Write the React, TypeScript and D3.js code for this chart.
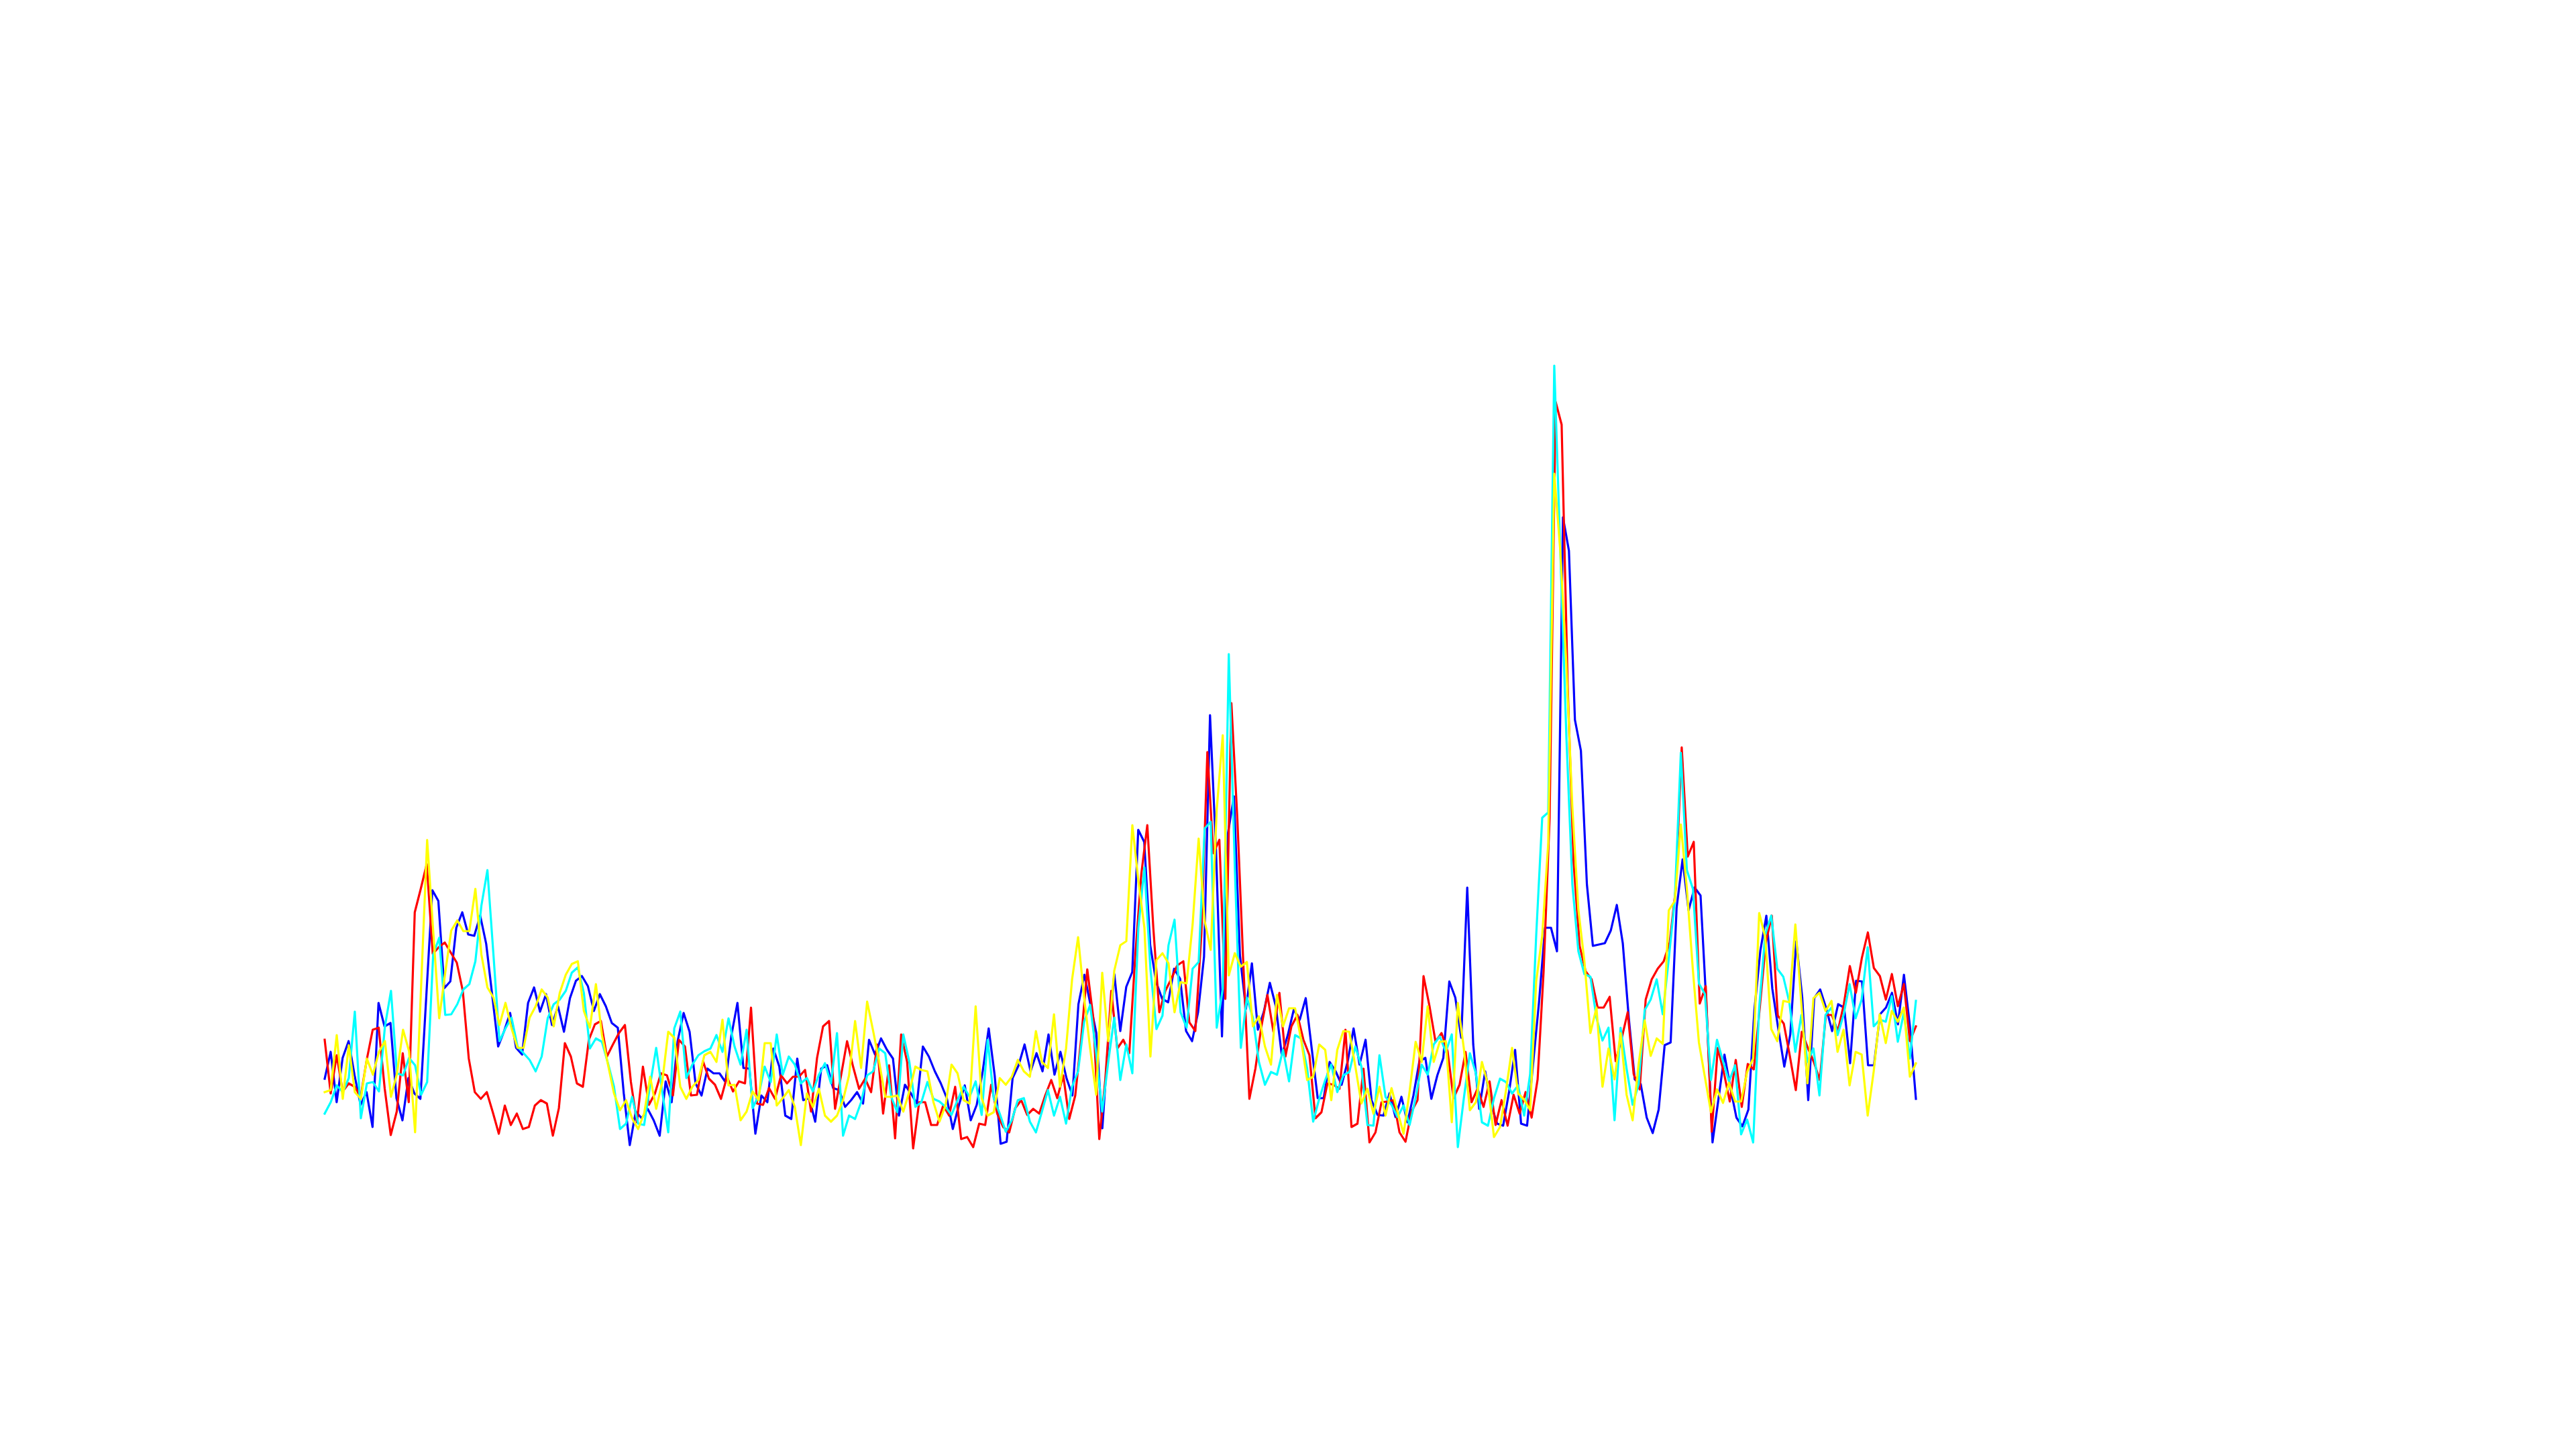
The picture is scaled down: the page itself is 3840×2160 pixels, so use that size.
import React, { useEffect } from "react";
import * as d3 from "d3";

// Four noisy series (values in arbitrary units).
const blueValues: number[] = [
  15.2, 19.2, 11.7, 18.3, 20.8, 15.7, 11.3, 13.2, 8.0, 26.5, 23.0, 23.5, 12.3, 9.0, 15.3, 13.0, 12.2, 27.7, 43.3, 41.7, 28.7, 29.7,
  37.7, 40.0, 36.7, 36.5, 39.5, 35.3, 27.7, 20.0, 22.3, 25.0, 19.8, 18.8, 26.5, 28.8, 25.2, 27.8, 23.2, 26.0, 22.2, 27.2, 29.8, 30.5,
  29.0, 25.3, 27.8, 26.0, 23.5, 22.8, 13.0, 5.3, 10.3, 9.3, 10.7, 9.0, 6.7, 14.8, 11.7, 20.8, 25.0, 22.2, 14.5, 12.7, 16.7, 16.0,
  16.0, 14.7, 21.7, 26.5, 16.8, 16.7, 7.0, 12.7, 11.7, 19.7, 17.0, 9.7, 9.2, 18.2, 12.0, 12.3, 8.8, 16.7, 17.2, 13.8, 13.5, 11.0, 12.0,
  13.2, 11.5, 21.0, 18.8, 21.2, 19.5, 18.2, 9.7, 14.3, 13.0, 11.5, 20.0, 18.5, 16.3, 14.5, 12.3, 7.7, 11.2, 14.2, 9.0, 11.3, 16.3,
  22.7, 15.7, 5.5, 5.8, 15.3, 17.2, 20.3, 16.3, 19.0, 16.3, 21.8, 15.8, 19.2, 15.3, 12.7, 26.3, 30.7, 26.3, 22.0, 7.8, 21.0, 30.8, 22.3,
  28.9, 31.1, 52.3, 50.5, 35.1, 29.6, 27.1, 26.6, 31.6, 30.1, 22.3, 20.8, 25.1, 33.4, 69.4, 49.3, 21.5, 51.8, 57.3, 33.6, 25.6, 32.4,
  22.5, 25.2, 29.5, 26.0, 18.7, 21.7, 25.5, 24.0, 27.2, 19.7, 12.3, 12.3, 17.7, 16.3, 14.3, 17.7, 22.7, 17.3, 21.0, 12.0, 9.8, 9.7,
  13.0, 9.5, 12.5, 8.7, 12.7, 17.8, 18.3, 12.2, 15.7, 18.3, 29.7, 27.3, 21.3, 43.7, 20.3, 10.7, 16.3, 11.3, 8.5, 8.2, 13.3, 19.5, 8.5,
  8.2, 17.4, 26.6, 37.7, 37.7, 34.2, 98.9, 93.9, 68.7, 64.1, 44.2, 35.0, 35.2, 35.4, 37.3, 41.1, 35.4, 24.3, 15.1, 14.4, 9.4, 7.1,
  10.6, 20.2, 20.6, 40.7, 47.9, 40.3, 43.7, 42.5, 25.8, 5.7, 12.2, 18.8, 13.8, 9.4, 8.1, 10.6, 25.4, 34.3, 39.5, 28.6, 22.6, 17.0, 21.8,
  35.7, 27.3, 12.0, 27.2, 28.5, 25.7, 22.3, 26.3, 25.8, 17.5, 29.8, 29.7, 17.2, 17.2, 24.8, 25.8, 28.0, 23.3, 30.7, 23.0, 12.2,
];

const redValues: number[] = [
  21.0, 13.0, 18.7, 13.3, 14.5, 14.0, 12.5, 18.0, 22.5, 22.8, 13.7, 6.8, 10.3, 19.0, 11.7, 40.0, 43.5, 47.2, 33.8, 34.8, 35.5,
  34.0, 32.5, 28.3, 18.2, 13.2, 12.2, 13.2, 10.2, 7.0, 11.2, 8.3, 10.0, 7.7, 8.0, 11.2, 12.0, 11.5, 6.7, 10.8, 20.5, 18.5, 14.5,
  14.0, 21.0, 23.3, 23.8, 18.5, 20.3, 22.0, 23.2, 14.7, 8.7, 17.0, 11.3, 13.0, 16.0, 15.7, 12.7, 21.0, 20.0, 12.7, 12.8, 17.8, 15.2, 14.3,
  12.2, 15.5, 13.3, 14.8, 14.5, 25.8, 11.5, 11.3, 13.8, 12.2, 15.7, 14.5, 15.5, 15.5, 16.5, 10.3, 18.3, 23.0, 23.8, 10.7, 15.7, 20.8,
  17.0, 13.7, 15.2, 13.2, 20.3, 10.0, 17.2, 6.3, 21.8, 17.7, 4.8, 11.7, 11.7, 8.3, 8.3, 11.2, 9.7, 14.0, 6.2, 6.5, 5.0, 8.5, 8.3,
  14.3, 10.0, 8.0, 7.2, 10.8, 12.0, 9.8, 10.7, 10.0, 12.7, 15.0, 12.3, 15.7, 9.2, 12.7, 21.3, 31.5, 24.3, 6.2, 15.0, 28.3, 19.7,
  21.0, 19.0, 33.6, 45.7, 53.0, 37.7, 25.1, 28.3, 30.1, 32.1, 32.7, 23.6, 22.3, 36.7, 63.9, 48.8, 50.8, 27.1, 71.2, 53.8, 32.1, 12.2,
  16.7, 23.0, 27.7, 22.2, 28.0, 18.5, 23.0, 24.7, 21.0, 18.7, 9.3, 10.2, 14.5, 14.3, 13.7, 22.5, 8.0, 8.5, 16.7, 5.7, 7.2, 11.7, 11.8,
  12.0, 7.2, 5.8, 10.3, 12.0, 30.5, 26.0, 20.7, 22.0, 19.3, 12.3, 14.3, 19.2, 11.7, 13.7, 11.0, 14.8, 8.3, 12.0, 8.2, 12.8, 10.0,
  13.2, 9.4, 15.1, 31.2, 54.1, 116.1, 112.7, 74.0, 47.3, 35.0, 31.2, 30.0, 25.8, 25.8, 27.4, 17.8, 21.2, 25.1, 15.9, 13.6, 27.0, 30.0, 31.6,
  32.7, 35.5, 43.5, 64.6, 48.3, 50.5, 26.4, 29.0, 7.3, 19.8, 16.2, 11.8, 18.0, 11.0, 17.4, 16.6, 25.8, 35.5, 39.5, 24.6, 23.4, 18.6,
  13.5, 22.2, 19.8, 17.7, 15.0, 24.7, 24.7, 22.3, 26.3, 32.0, 28.0, 33.2, 37.0, 31.7, 30.5, 27.0, 30.8, 26.0, 29.3, 20.8, 23.0,
];

const cyanValues: number[] = [
  10.0, 11.7, 14.2, 13.2, 15.3, 25.2, 9.3, 14.5, 14.7, 13.3, 23.0, 28.3, 16.0, 15.7, 18.3, 17.2, 12.8, 14.7, 33.7, 36.2, 24.7, 24.8,
  26.3, 28.5, 29.3, 32.7, 41.0, 46.3, 33.7, 20.8, 22.7, 24.3, 20.0, 19.0, 18.0, 16.3, 18.5, 24.2, 26.3, 27.0, 28.3, 31.0, 31.8, 28.0,
  19.7, 21.2, 20.7, 17.5, 14.0, 7.7, 8.5, 12.5, 8.5, 8.3, 14.3, 19.8, 13.3, 7.2, 22.7, 25.2, 15.3, 17.3, 18.7, 19.3, 19.7, 21.7,
  19.2, 24.2, 20.0, 17.3, 22.5, 10.8, 12.7, 17.0, 14.7, 21.8, 15.8, 18.5, 17.3, 14.5, 15.3, 13.3, 15.8, 17.5, 14.5, 22.0, 6.7, 9.7,
  9.2, 11.7, 15.7, 16.3, 19.7, 19.0, 12.5, 10.2, 21.8, 17.7, 11.0, 11.7, 14.7, 12.2, 11.8, 11.0, 9.8, 12.0, 14.0, 12.5, 14.8, 9.8,
  21.0, 12.3, 10.0, 7.3, 9.0, 12.0, 12.3, 8.8, 7.2, 10.3, 13.5, 9.7, 12.5, 8.5, 14.0, 16.3, 23.7, 26.2, 19.0, 10.3, 17.7, 24.3, 15.0,
  20.3, 16.0, 37.7, 46.7, 31.6, 22.6, 24.6, 35.1, 38.9, 25.1, 22.8, 31.6, 32.6, 52.5, 53.5, 22.8, 28.6, 78.5, 46.7, 19.8, 27.3, 24.3,
  17.7, 14.3, 16.2, 15.8, 19.5, 14.8, 21.7, 21.2, 16.7, 8.8, 12.2, 15.0, 17.3, 13.2, 15.7, 16.2, 20.0, 17.0, 8.3, 8.2, 18.7, 12.5, 11.3,
  9.5, 11.2, 8.3, 12.3, 17.3, 15.8, 20.3, 21.5, 19.2, 21.8, 5.0, 12.3, 19.0, 16.0, 8.7, 8.2, 12.3, 15.2, 14.7, 13.0, 14.2, 9.7,
  15.9, 36.5, 54.1, 54.9, 121.5, 93.9, 66.4, 44.2, 34.2, 30.8, 30.4, 24.3, 20.9, 22.8, 9.0, 22.8, 16.7, 11.3, 14.4, 25.4, 27.0, 30.0,
  24.8, 33.1, 41.9, 63.8, 46.3, 43.5, 29.4, 27.8, 15.0, 21.0, 17.8, 14.8, 17.2, 6.9, 9.1, 5.7, 25.8, 36.7, 39.5, 31.6, 30.4, 26.6,
  19.2, 24.7, 17.7, 19.7, 12.7, 24.7, 25.8, 21.7, 24.7, 29.3, 24.2, 27.0, 34.8, 23.0, 24.0, 23.7, 27.5, 20.7, 25.0, 18.2, 26.8,
];

const yellowValues: number[] = [
  13.2, 13.5, 21.7, 12.2, 20.2, 13.2, 12.2, 18.2, 15.8, 19.2, 20.8, 12.5, 16.0, 22.5, 19.3, 7.2, 29.0, 50.8, 37.3, 24.2, 31.0,
  37.3, 38.8, 37.2, 37.2, 43.5, 33.7, 28.8, 27.3, 23.2, 26.5, 22.7, 19.8, 19.8, 24.3, 26.0, 28.5, 27.3, 23.0, 28.0, 30.7, 32.3, 32.7,
  25.3, 22.8, 29.3, 21.7, 17.3, 13.0, 10.5, 12.0, 9.3, 7.7, 10.0, 15.5, 10.7, 14.7, 22.2, 21.3, 14.0, 12.2, 14.0, 15.0, 18.7, 19.2,
  17.7, 24.0, 14.2, 14.3, 9.0, 10.3, 13.3, 12.0, 20.5, 20.5, 11.2, 12.3, 13.5, 11.0, 5.3, 13.0, 11.0, 13.7, 9.7, 8.8, 9.7, 12.0,
  15.7, 23.8, 16.8, 26.7, 22.3, 17.7, 12.5, 12.5, 12.7, 10.3, 13.3, 17.0, 16.5, 16.3, 11.7, 8.8, 11.2, 17.3, 16.0, 12.0, 11.5, 26.0,
  12.3, 9.7, 10.2, 15.3, 14.3, 15.5, 18.0, 16.3, 15.5, 22.3, 17.7, 16.8, 24.8, 14.0, 19.7, 30.0, 36.3, 27.3, 19.7, 12.8, 31.0, 20.8, 31.3,
  35.1, 35.7, 53.0, 44.7, 37.7, 18.5, 32.9, 33.9, 32.4, 25.1, 29.6, 29.4, 38.2, 51.0, 38.7, 34.4, 55.3, 66.4, 30.6, 33.9, 31.9, 32.6,
  23.0, 24.5, 20.0, 17.3, 27.7, 23.0, 25.7, 25.7, 21.0, 15.0, 15.5, 20.3, 19.5, 12.0, 19.5, 22.3, 22.2, 17.0, 11.5, 13.7, 10.0, 14.0, 9.7,
  13.8, 10.3, 7.0, 13.3, 20.7, 17.7, 26.0, 17.7, 20.7, 20.8, 8.7, 26.5, 19.7, 10.5, 11.7, 17.7, 14.3, 6.5, 8.0, 13.5, 19.8, 13.0,
  12.1, 10.5, 29.7, 36.5, 50.3, 105.4, 93.9, 77.1, 55.7, 40.4, 32.7, 22.0, 25.8, 14.0, 19.7, 15.1, 22.0, 12.8, 9.0, 17.4, 23.9, 18.6, 21.2,
  20.4, 40.3, 41.7, 53.1, 43.5, 31.4, 20.6, 15.4, 10.2, 13.6, 11.6, 14.6, 11.8, 11.8, 16.2, 18.2, 39.9, 36.3, 22.6, 20.8, 26.8, 26.6,
  38.2, 26.3, 14.5, 27.2, 28.0, 25.3, 26.8, 19.2, 22.5, 14.2, 19.2, 18.8, 9.7, 16.3, 24.8, 20.5, 25.3, 23.7, 25.8, 15.5, 17.5,
];

const seriesNames = ["blue", "red", "cyan", "yellow"];
const seriesColors = ["#0000ff", "#ff0000", "#00ffff", "#ffff00"];
const seriesData = [blueValues, redValues, cyanValues, yellowValues];

const WIDTH = 3840;
const HEIGHT = 2160;
const PLOT_LEFT = 484;
const PLOT_RIGHT = 2856;
const PLOT_BOTTOM = 1760;
const PLOT_TOP = 760;

export default function App() {
  useEffect(() => {
    document.body.style.margin = "0";
    document.body.style.overflow = "hidden";
  }, []);

  const yScale = d3.scaleLinear().domain([0, 100]).range([PLOT_BOTTOM, PLOT_TOP]);

  return (
    <svg
      width={WIDTH}
      height={HEIGHT}
      style={{ position: "absolute", left: 0, top: 0, background: "#ffffff" }}
    >
      <rect x={0} y={0} width={WIDTH} height={HEIGHT} fill="#ffffff" />
      {seriesData.map((values, k) => {
        const xScale = d3
          .scaleLinear()
          .domain([0, values.length - 1])
          .range([PLOT_LEFT, PLOT_RIGHT]);
        const line = d3
          .line<number>()
          .x((_, i) => xScale(i))
          .y((d) => yScale(d));
        return (
          <path
            key={seriesNames[k]}
            d={line(values) || ""}
            fill="none"
            stroke={seriesColors[k]}
            strokeWidth={3.2}
            strokeLinejoin="round"
            strokeLinecap="square"
          />
        );
      })}
    </svg>
  );
}
